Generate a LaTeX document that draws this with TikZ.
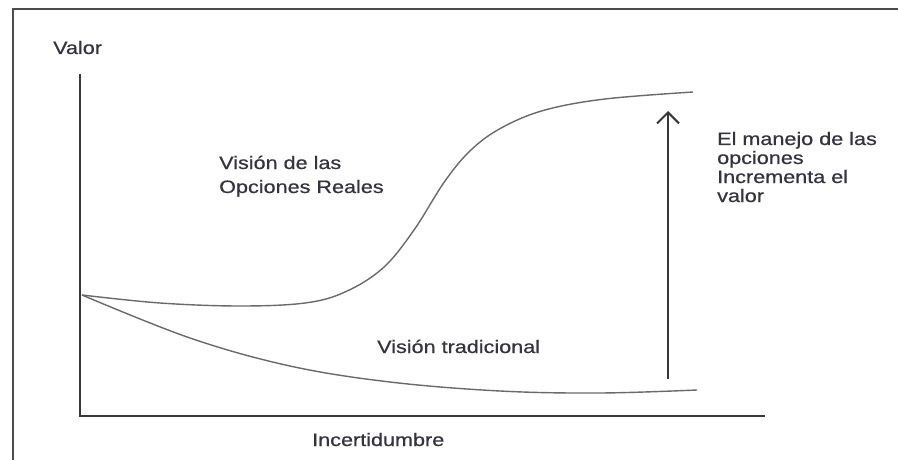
\documentclass[tikz,border=0pt]{standalone}
\usepackage{fontspec}
\setmainfont[FakeStretch=1.2, FakeBold=0.6]{Liberation Sans}
\usetikzlibrary{arrows.meta}
\definecolor{ink}{HTML}{34343E}
\definecolor{axis}{HTML}{383838}
\definecolor{curve}{HTML}{6A6A6A}
\tikzset{
  lbl/.style={anchor=base west, inner sep=0pt, text=ink, font=\fontsize{18}{19}\selectfont},
  axisline/.style={draw=axis, line width=2pt},
  frameline/.style={draw=axis!90, line width=2.6pt},
  curveline/.style={draw=curve, line width=1.4pt},
  uparrow/.style={draw=axis, line width=2pt, -{Straight Barb[length=11pt,width=22pt,line width=2pt]}}
}
\begin{document}
\begin{tikzpicture}[x=1pt,y=-1pt]
\useasboundingbox (0,0) rectangle (898,460);
\fill[white] (0,0) rectangle (898,460);
% frame (cut by the page on the right and bottom)
\coordinate (fr) at (898,9);
\coordinate (ftl) at (13,9);
\coordinate (fb) at (13,460);
\draw[frameline] (fr) -- (ftl) -- (fb);
% axes
\coordinate (ytop) at (80,74);
\coordinate (origin) at (80,416);
\coordinate (xend) at (765,416);
\draw[axisline] (ytop) -- (origin) -- (xend);
% curves
\coordinate (start) at (82,295);
\draw[curveline] plot[smooth, tension=0.6] coordinates {(start) (160,303) (240,306) (305,303) (345,292) (383,268) (414,230) (445,181) (472,149) (503,127) (545,110) (605,99) (693,92)};
\draw[curveline] plot[smooth, tension=0.6] coordinates {(start) (190,338) (290,366) (390,382) (500,391) (600,393) (697,390)};
% arrow
\coordinate (abot) at (668,379);
\coordinate (atop) at (668,111);
\draw[uparrow] (abot) -- (atop);
% labels
\node[lbl] (valor) at (53,54) {Valor};
\node[lbl] (or1) at (219,169) {Visión de las};
\node[lbl] (or2) at (219,193) {Opciones Reales};
\node[lbl] (trad) at (377,353) {Visión tradicional};
\node[lbl] (inc) at (312,446) {Incertidumbre};
\node[lbl] (m1) at (717,145) {El manejo de las};
\node[lbl] (m2) at (717,164) {opciones};
\node[lbl] (m3) at (717,183) {Incrementa el};
\node[lbl] (m4) at (717,202) {valor};
\end{tikzpicture}
\end{document}
